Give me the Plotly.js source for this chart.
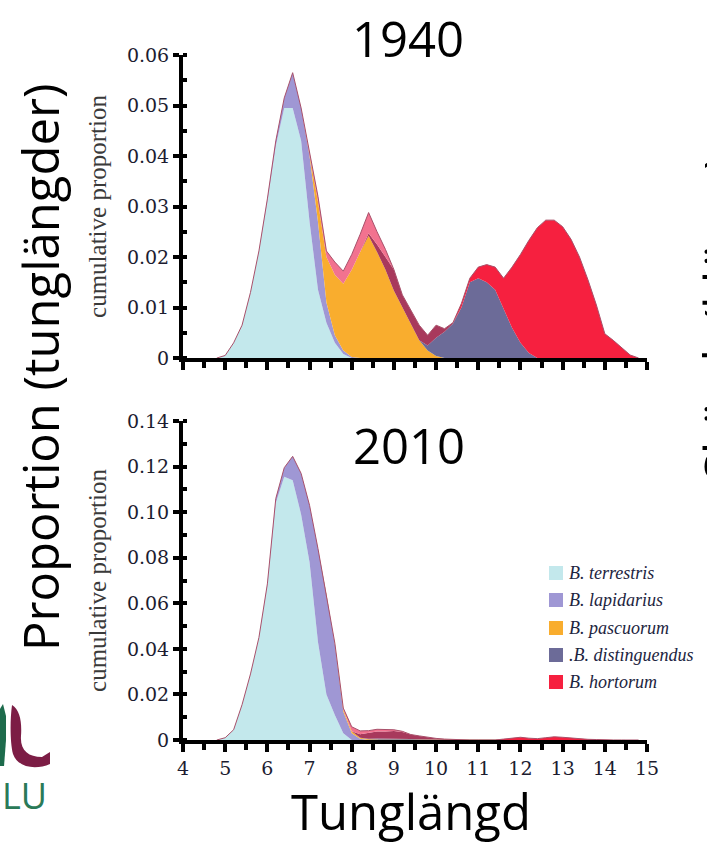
<!DOCTYPE html>
<html>
<head>
<meta charset="utf-8">
<script src="https://cdn.plot.ly/plotly-3.0.1.min.js"></script>
<style>
html,body{margin:0;padding:0;background:#fff;}
#chart{width:707px;height:845px;}
</style>
</head>
<body>
<div id="chart"></div>
<script>
// ---------- DATA ----------
const tongueLength = [
  4.8,5.0,5.2,5.4,5.6,5.8,6.0,6.2,6.4,6.6,
  6.8,7.0,7.2,7.4,7.6,7.8,8.0,8.2,8.4,8.6,
  8.8,9.0,9.2,9.4,9.6,9.8,10.0,10.2,10.4,10.6,
  10.8,11.0,11.2,11.4,11.6,11.8,12.0,12.2,12.4,12.6,
  12.8,13.0,13.2,13.4,13.6,13.8,14.0,14.2,14.4,14.6,
  14.8
];

const species = ["B. terrestris","B. lapidarius","B. pascuorum",".B. distinguendus","B. hortorum"];
const speciesColors = ["#c3e8ec","#9f97d4","#f9ad2e","#6c6b98","#f6203f"];
const otherDarkColor = "#a8395c";
const otherPinkColor = "#f2728f";

// 1940
const y1940_terrestris = [
  0,0.0005,0.003,0.0065,0.013,0.0212,0.031,0.042,0.0495,0.0495,
  0.043,0.027,0.0135,0.007,0.003,0.0008,0,0,0,0,
  0,0,0,0,0,0,0,0,0,0,
  0,0,0,0,0,0,0,0,0,0,
  0,0,0,0,0,0,0,0,0,0,
  0
];
const y1940_lapidarius = [
  0,0,0,0,0,0,0.0005,0.001,0.002,0.007,
  0.0065,0.013,0.0135,0.004,0.0015,0.0007,0.0002,0,0,0,
  0,0,0,0,0,0,0,0,0,0,
  0,0,0,0,0,0,0,0,0,0,
  0,0,0,0,0,0,0,0,0,0,
  0
];
const y1940_pascuorum = [
  0,0,0,0,0,0,0,0,0,0,
  0,0.0005,0.004,0.009,0.012,0.0132,0.0173,0.021,0.0242,0.021,
  0.0175,0.0133,0.010,0.0068,0.0035,0.0015,0.0004,0,0,0,
  0,0,0,0,0,0,0,0,0,0,
  0,0,0,0,0,0,0,0,0,0,
  0
];
const y1940_distinguendus = [
  0,0,0,0,0,0,0,0,0,0,
  0,0,0,0,0,0,0,0,0,0,
  0,0,0,0,0,0.001,0.0036,0.0052,0.0068,0.010,
  0.015,0.0158,0.015,0.0135,0.0098,0.006,0.003,0.001,0,0,
  0,0,0,0,0,0,0,0,0,0,
  0
];
const y1940_otherDark = [
  0,0,0,0,0,0,0,0,0,0,
  0,0,0,0,0,0,0,0,0.0005,0.0015,
  0.0025,0.0042,0.0025,0.0027,0.003,0.002,0.0025,0.0006,0.0002,0,
  0,0,0,0,0,0,0,0,0,0,
  0,0,0,0,0,0,0,0,0,0,
  0
];
const y1940_hortorum = [
  0,0,0,0,0,0,0,0,0,0,
  0,0,0,0,0,0,0,0,0,0,
  0,0,0,0,0,0,0,0,0,0.0008,
  0.0008,0.0022,0.0035,0.0045,0.006,0.012,0.0175,0.0223,0.0258,0.0273,
  0.0273,0.026,0.0235,0.020,0.0155,0.0105,0.0048,0.0035,0.002,0.0006,
  0
];
const y1940_otherPink = [
  0,0,0,0,0,0,0,0,0,0,
  0,0,0.001,0.0012,0.0025,0.0025,0.003,0.0035,0.0041,0.0025,
  0.0015,0,0,0,0,0,0,0,0,0,
  0,0,0,0,0,0,0,0,0,0,
  0,0,0,0,0,0,0,0,0,0,
  0
];

// 2010
const y2010_terrestris = [
  0,0.001,0.0045,0.0155,0.029,0.045,0.068,0.104,0.1155,0.114,
  0.099,0.078,0.043,0.020,0.011,0.003,0,0,0,0,
  0,0,0,0,0,0,0,0,0,0,
  0,0,0,0,0,0,0,0,0,0,
  0,0,0,0,0,0,0,0,0,0,
  0
];
const y2010_lapidarius = [
  0,0,0,0,0,0,0.0005,0.002,0.004,0.0105,
  0.018,0.025,0.041,0.044,0.031,0.0095,0.003,0.0005,0,0,
  0,0,0,0,0,0,0,0,0,0,
  0,0,0,0,0,0,0,0,0,0,
  0,0,0,0,0,0,0,0,0,0,
  0
];
const y2010_pascuorum = [
  0,0,0,0,0,0,0,0,0,0,
  0,0,0,0,0.0005,0.001,0.0008,0.0005,0.0003,0.0002,
  0.0002,0.0002,0,0,0,0,0,0,0,0,
  0,0,0,0,0,0,0,0,0,0,
  0,0,0,0,0,0,0,0,0,0,
  0
];
const y2010_distinguendus = [
  0,0,0,0,0,0,0,0,0,0,
  0,0,0,0,0,0,0,0,0.0003,0.0005,
  0.0005,0.0005,0.0005,0.0004,0.0003,0.0002,0.0001,0,0,0,
  0,0,0,0,0,0,0,0,0,0,
  0,0,0,0,0,0,0,0,0,0,
  0
];
const y2010_otherDark = [
  0,0,0,0,0,0,0,0,0,0,
  0,0,0,0,0,0,0,0.0015,0.0025,0.003,
  0.003,0.0033,0.003,0.002,0.0015,0.001,0.0006,0.0004,0.0002,0,
  0,0,0,0,0,0,0,0,0,0,
  0,0,0,0,0,0,0,0,0,0,
  0
];
const y2010_hortorum = [
  0,0,0,0,0,0,0,0,0,0,
  0,0,0,0,0,0,0,0,0,0,
  0,0,0,0,0,0,0,0,0,0,
  0,0,0,0,0.0004,0.0008,0.0012,0.0008,0.0006,0.001,
  0.0014,0.0012,0.0008,0.0005,0.0003,0.0002,0,0,0,0,
  0
];
const y2010_otherPink = [
  0,0,0,0,0,0,0,0,0,0,
  0,0,0,0,0,0.0005,0.002,0.0015,0.001,0.001,
  0.0008,0.0005,0.0003,0,0,0,0,0,0,0,
  0,0,0,0,0,0,0,0,0,0,
  0,0,0,0,0,0,0,0,0,0,
  0
];

const xTickVals = [4,5,6,7,8,9,10,11,12,13,14,15];
const xTickText = ["4","5","6","7","8","9","10","11","12","13","14","15"];
const yTopTickVals = [0,0.01,0.02,0.03,0.04,0.05,0.06];
const yTopTickText = ["0","0.01","0.02","0.03","0.04","0.05","0.06"];
const yBotTickVals = [0,0.02,0.04,0.06,0.08,0.10,0.12,0.14];
const yBotTickText = ["0","0.02","0.04","0.06","0.08","0.10","0.12","0.14"];

// ---------- BUILD ----------
const W = 707, H = 845;
const px = v => v / W;
const py = v => 1 - v / H;

function layers(set) {
  return [
    {name: species[0], y: set[0], color: speciesColors[0]},
    {name: species[1], y: set[1], color: speciesColors[1]},
    {name: species[2], y: set[2], color: speciesColors[2]},
    {name: species[3], y: set[3], color: speciesColors[3]},
    {name: "other", y: set[4], color: otherDarkColor},
    {name: species[4], y: set[5], color: speciesColors[4]},
    {name: "other", y: set[6], color: otherPinkColor}
  ];
}
const set1940 = [y1940_terrestris,y1940_lapidarius,y1940_pascuorum,y1940_distinguendus,y1940_otherDark,y1940_hortorum,y1940_otherPink];
const set2010 = [y2010_terrestris,y2010_lapidarius,y2010_pascuorum,y2010_distinguendus,y2010_otherDark,y2010_hortorum,y2010_otherPink];

const traces = [];
[[set1940,'x','y','g1940'],[set2010,'x2','y2','g2010']].forEach(([set,xa,ya,grp]) => {
  const L = layers(set);
  L.forEach((l,i) => {
    const top = i === L.length - 1;
    traces.push({
      type: 'scatter', mode: 'lines', x: tongueLength, y: l.y, name: l.name,
      xaxis: xa, yaxis: ya, stackgroup: grp,
      fillcolor: l.color,
      line: top ? {width: 1, color: '#a8506a'} : {width: 0, color: l.color},
      showlegend: false, hoverinfo: 'skip'
    });
  });
});

const tickFont = {family: 'DejaVu Serif, serif', size: 19, color: '#1c1c30'};
const yTitleFont = {family: 'Liberation Serif, Times New Roman, serif', size: 25, color: '#3a3a3a'};
const bigFont = {family: 'Open Sans, sans-serif', size: 49, color: '#000'};

const xDomain = [px(183), px(647)];
function xAxis(showLabels, anchor) {
  return {
    domain: xDomain, range: [4, 15], anchor: anchor,
    showline: true, linewidth: 4, linecolor: '#000', showgrid: false, zeroline: false,
    tickmode: 'array', tickvals: xTickVals, ticktext: xTickText,
    ticks: 'outside', ticklen: 8, tickwidth: 4, tickcolor: '#000',
    showticklabels: showLabels, tickfont: tickFont,
    minor: {tickmode: 'linear', tick0: 4, dtick: 0.5, ticks: 'outside', ticklen: 6, tickwidth: 4, tickcolor: '#000'}
  };
}
function yAxis(dom, rng, tv, tt, minorStep, anchor) {
  return {
    domain: dom, range: rng, anchor: anchor,
    showline: true, linewidth: 4, linecolor: '#000', showgrid: false, zeroline: false,
    tickmode: 'array', tickvals: tv, ticktext: tt,
    ticks: 'outside', ticklen: 6, tickwidth: 4, tickcolor: '#000',
    tickfont: tickFont,
    minor: {tickmode: 'linear', tick0: 0, dtick: minorStep, ticks: 'inside', ticklen: 4, tickwidth: 4, tickcolor: '#000'},
    title: {text: 'cumulative proportion', font: yTitleFont, standoff: 14}
  };
}

const annotations = [
  {text: '1940', x: px(408), y: py(38), xref: 'paper', yref: 'paper', showarrow: false, font: bigFont, xanchor: 'center', yanchor: 'middle'},
  {text: '2010', x: px(409), y: py(445), xref: 'paper', yref: 'paper', showarrow: false, font: bigFont, xanchor: 'center', yanchor: 'middle'},
  {text: 'Tunglängd', x: px(411), y: py(811), xref: 'paper', yref: 'paper', showarrow: false, font: bigFont, xanchor: 'center', yanchor: 'middle'},
  {text: 'Proportion (tunglängder)', x: px(40), y: py(368), xref: 'paper', yref: 'paper', showarrow: false, font: bigFont, textangle: -90, xanchor: 'center', yanchor: 'middle'},
  {text: 'Skörd  (klöver)', x: px(686), y: py(318), xref: 'paper', yref: 'paper', showarrow: false, font: bigFont, textangle: -90, xanchor: 'left', yanchor: 'middle'},
  {text: 'LU', x: px(0), y: py(795), xref: 'paper', yref: 'paper', showarrow: false, font: {family: 'Open Sans, sans-serif', size: 36, color: '#2a7a58'}, xanchor: 'left', yanchor: 'middle'}
];

const shapes = [];
// legend (built from species arrays)
const legendY = [573, 600, 628, 655, 682];
species.forEach((s, i) => {
  shapes.push({type: 'rect', xref: 'paper', yref: 'paper',
    x0: px(549), x1: px(563), y0: py(legendY[i] + 7), y1: py(legendY[i] - 7),
    fillcolor: speciesColors[i], line: {width: 0}});
  annotations.push({text: '<i>' + s + '</i>', x: px(567), y: py(legendY[i]), xref: 'paper', yref: 'paper',
    showarrow: false, xanchor: 'left', yanchor: 'middle',
    font: {family: 'Liberation Serif, Times New Roman, serif', size: 18, color: '#1c2440'}});
});

// logo shapes
function P(pts) { return pts.map(p => p[0] === 'Z' ? 'Z' : p[0] + px(p[1]).toFixed(4) + ',' + py(p[2]).toFixed(4)).join(' '); }
shapes.push({type: 'path', xref: 'paper', yref: 'paper', line: {width: 0}, fillcolor: '#1d6b4c',
  path: P([['M',-2,712],['L',3,704],['L',6,716],['L',6,740],['L',4,766],['L',-2,766],['Z']])});
shapes.push({type: 'path', xref: 'paper', yref: 'paper', line: {width: 0}, fillcolor: '#7c1d45',
  path: 'M' + px(12).toFixed(4) + ',' + py(705).toFixed(4) +
    ' C' + px(20).toFixed(4) + ',' + py(710).toFixed(4) + ' ' + px(22).toFixed(4) + ',' + py(722).toFixed(4) + ' ' + px(21).toFixed(4) + ',' + py(736).toFixed(4) +
    ' C' + px(20).toFixed(4) + ',' + py(750).toFixed(4) + ' ' + px(28).toFixed(4) + ',' + py(757).toFixed(4) + ' ' + px(42).toFixed(4) + ',' + py(757).toFixed(4) +
    ' L' + px(50).toFixed(4) + ',' + py(752).toFixed(4) +
    ' L' + px(50).toFixed(4) + ',' + py(764).toFixed(4) +
    ' C' + px(36).toFixed(4) + ',' + py(770).toFixed(4) + ' ' + px(18).toFixed(4) + ',' + py(768).toFixed(4) + ' ' + px(13).toFixed(4) + ',' + py(754).toFixed(4) +
    ' C' + px(10).toFixed(4) + ',' + py(742).toFixed(4) + ' ' + px(10).toFixed(4) + ',' + py(720).toFixed(4) + ' ' + px(12).toFixed(4) + ',' + py(705).toFixed(4) + ' Z'});

const layout = {
  width: W, height: H,
  margin: {l: 0, r: 0, t: 0, b: 0},
  paper_bgcolor: '#fff', plot_bgcolor: '#fff',
  showlegend: false,
  xaxis: xAxis(false, 'y'),
  yaxis: yAxis([py(358), py(55)], [0, 0.06], yTopTickVals, yTopTickText, 0.005, 'x'),
  xaxis2: xAxis(true, 'y2'),
  yaxis2: yAxis([py(740), py(421)], [0, 0.14], yBotTickVals, yBotTickText, 0.01, 'x2'),
  annotations: annotations,
  shapes: shapes
};

Plotly.newPlot('chart', traces, layout, {displayModeBar: false, staticPlot: true});
</script>
</body>
</html>
